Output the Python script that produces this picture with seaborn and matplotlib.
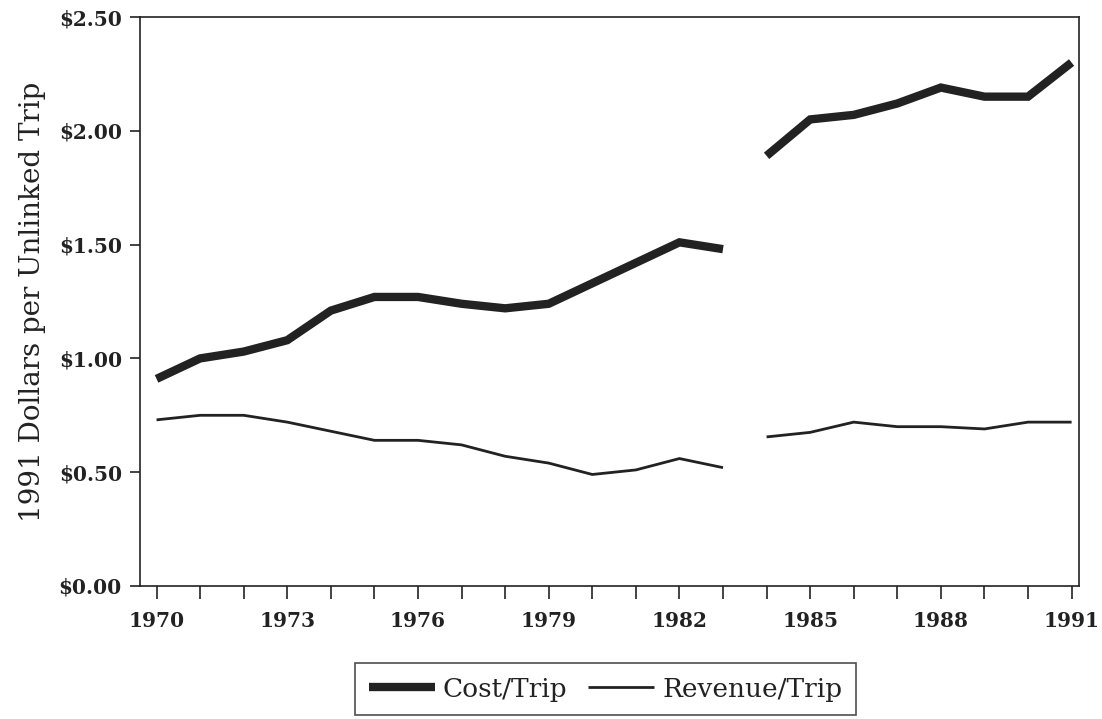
import pandas as pd
import matplotlib.pyplot as plt
import seaborn as sns
from matplotlib.lines import Line2D
from matplotlib.ticker import FuncFormatter, MultipleLocator

# Values (1991 dollars per unlinked trip)
years_early = [1970, 1971, 1972, 1973, 1974, 1975, 1976, 1977, 1978, 1979, 1980, 1981, 1982, 1983]
years_late = [1984, 1985, 1986, 1987, 1988, 1989, 1990, 1991]

cost_early = [0.91, 1.00, 1.03, 1.08, 1.21, 1.27, 1.27, 1.24, 1.22, 1.24, 1.33, 1.42, 1.51, 1.48]
cost_late = [1.89, 2.05, 2.07, 2.12, 2.19, 2.15, 2.15, 2.30]

revenue_early = [0.73, 0.75, 0.75, 0.72, 0.68, 0.64, 0.64, 0.62, 0.57, 0.54, 0.49, 0.51, 0.56, 0.52]
revenue_late = [0.655, 0.675, 0.72, 0.70, 0.70, 0.69, 0.72, 0.72]

labeled_years = [1970, 1973, 1976, 1979, 1982, 1985, 1988, 1991]
y_ticks = [0, 0.5, 1.0, 1.5, 2.0, 2.5]

series_names = ["Cost/Trip", "Revenue/Trip"]
line_widths = {"Cost/Trip": 6.0, "Revenue/Trip": 2.0}
line_color = "#222222"


def build_frame():
    rows = []
    for name, early, late in [("Cost/Trip", cost_early, cost_late),
                              ("Revenue/Trip", revenue_early, revenue_late)]:
        for y, v in zip(years_early, early):
            rows.append({"Year": y, "Value": v, "Series": name, "Segment": 0})
        for y, v in zip(years_late, late):
            rows.append({"Year": y, "Value": v, "Series": name, "Segment": 1})
    return pd.DataFrame(rows)


df = build_frame()

sns.set_style("white")
plt.rcParams["font.family"] = ["DejaVu Serif"]

fig = plt.figure(figsize=(11.02, 7.19), dpi=100)
ax = fig.add_axes([140 / 1102, 1 - 586 / 719, (1079 - 140) / 1102, (586 - 17) / 719])

# the series break between 1983 and 1984, so each segment is drawn as its own unit
for name in series_names:
    sns.lineplot(data=df[df["Series"] == name], x="Year", y="Value", units="Segment",
                 estimator=None, color=line_color, linewidth=line_widths[name],
                 solid_joinstyle="miter", solid_capstyle="butt", ax=ax)

ax.set_xlim(1969.62, 1991.17)
ax.set_ylim(0, 2.5)

ax.set_xticks(labeled_years)
ax.xaxis.set_minor_locator(MultipleLocator(1))
ax.xaxis.set_major_formatter(FuncFormatter(lambda v, p: f"{int(round(v))}"))
ax.set_yticks(y_ticks)
ax.yaxis.set_major_formatter(FuncFormatter(lambda v, p: f"${v:.2f}"))

ax.tick_params(axis="x", which="both", direction="out", length=9, width=1.2,
               color="#222222", pad=9, bottom=True)
ax.tick_params(axis="y", which="major", direction="out", length=7, width=1.2,
               color="#222222", pad=6, left=True)
for lbl in ax.get_xticklabels() + ax.get_yticklabels():
    lbl.set_fontsize(14.5)
    lbl.set_fontweight("bold")
    lbl.set_color("#222222")

for side in ["left", "right", "top", "bottom"]:
    ax.spines[side].set_visible(True)
    ax.spines[side].set_color("#222222")
    ax.spines[side].set_linewidth(1.2)

ax.set_xlabel("")
ax.set_ylabel("1991 Dollars per Unlinked Trip", fontsize=20, color="#222222", labelpad=9)

handles = [Line2D([0], [0], color=line_color, linewidth=line_widths[n], solid_capstyle="butt")
           for n in series_names]
leg = fig.legend(handles, series_names, loc="center", ncol=2,
                 bbox_to_anchor=(605.5 / 1102, 1 - 689 / 719), bbox_transform=fig.transFigure,
                 frameon=True, fancybox=False, edgecolor="#222222", fontsize=19,
                 handlelength=2.5, handletextpad=0.3, columnspacing=0.8,
                 borderpad=0.5, borderaxespad=0)
leg.get_frame().set_linewidth(1.2)
for t in leg.get_texts():
    t.set_color("#222222")

fig.savefig("out.png", dpi=100)
